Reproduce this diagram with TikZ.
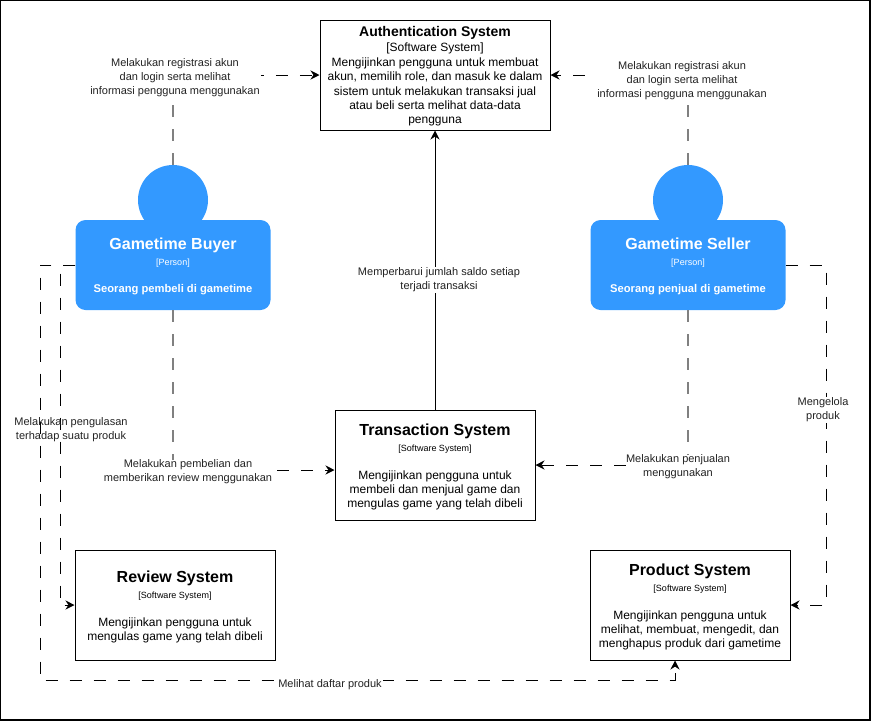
\documentclass[tikz,border=0pt]{standalone}
\usepackage{fontspec}
\setmainfont{Liberation Sans}
\usetikzlibrary{arrows.meta}
\definecolor{personblue}{HTML}{3399FF}
\definecolor{flowgray}{HTML}{808080}
\definecolor{notetext}{HTML}{222222}
\newcommand{\systitle}[1]{{\fontsize{16}{18}\selectfont\bfseries\rule{0pt}{15.5pt}#1}}
\newcommand{\systype}[1]{{\fontsize{9}{11}\selectfont #1}}
\tikzset{
  sysbox/.style={draw, line width=1pt, inner sep=0pt, align=center, font=\fontsize{12}{14.4}\selectfont},
  personbody/.style={fill=personblue, text=white, rounded corners=10pt, minimum width=195pt, minimum height=90pt, inner sep=0pt, align=center},
  personhead/.style={circle, fill=personblue, minimum size=70pt, inner sep=0pt},
  note/.style={text=notetext, inner xsep=1pt, inner ysep=0pt, align=center, font=\fontsize{11}{13.8}\selectfont},
  flow/.style={draw, line width=.9pt, dash pattern=on 12pt off 12pt, -{Stealth[length=9pt, width=9pt]}},
  flowstem/.style={draw=flowgray, line width=1.5pt, dash pattern=on 12pt off 12pt}
}
\begin{document}
\begin{tikzpicture}[x=1pt, y=-1pt]
  \useasboundingbox (0,0) rectangle (871,721);
  \draw [line width=1.2pt] (.5,.5) rectangle (870,720);
  % systems
  \node [sysbox, minimum width=230pt, minimum height=110pt] (auth) at (435,75)
    {{\fontsize{14}{16}\selectfont\bfseries\rule{0pt}{13pt}Authentication System}\\[1pt]
     [Software System]\\
     Mengijinkan pengguna untuk membuat\\
     akun, memilih role, dan masuk ke dalam\\
     sistem untuk melakukan transaksi jual\\
     atau beli serta melihat data-data\\
     pengguna};
  \node [sysbox, minimum width=200pt, minimum height=110pt] (trans) at (435,465)
    {\systitle{Transaction System}\\[2pt]
     \systype{[Software System]}\\[13pt]
     Mengijinkan pengguna untuk\\
     membeli dan menjual game dan\\
     mengulas game yang telah dibeli};
  \node [sysbox, minimum width=200pt, minimum height=110pt] (review) at (175,605)
    {\systitle{Review System}\\[2pt]
     \systype{[Software System]}\\[13pt]
     Mengijinkan pengguna untuk\\
     mengulas game yang telah dibeli};
  \node [sysbox, minimum width=200pt, minimum height=110pt] (product) at (690,605)
    {\systitle{Product System}\\[2pt]
     \systype{[Software System]}\\[13pt]
     Mengijinkan pengguna untuk\\
     melihat, membuat, mengedit, dan\\
     menghapus produk dari gametime};
  % persons
  \node [personhead] (buyerhead) at (173,200) {};
  \node [personhead] (sellerhead) at (688,200) {};
  \node [personbody] (buyer) at (173,265)
    {\systitle{Gametime Buyer}\\[3.5pt]
     {\fontsize{9}{11}\selectfont [Person]}\\[15pt]
     {\fontsize{11.2}{14}\selectfont\bfseries\rule[-4pt]{0pt}{4pt}Seorang pembeli di gametime}};
  \node [personbody] (seller) at (688,265)
    {\systitle{Gametime Seller}\\[3.5pt]
     {\fontsize{9}{11}\selectfont [Person]}\\[15pt]
     {\fontsize{11.2}{14}\selectfont\bfseries\rule[-4pt]{0pt}{4pt}Seorang penjual di gametime}};
  % labels
  \node [note] (buyerlogin) at (175,77.5)
    {Melakukan registrasi akun\\ dan login serta melihat\\ informasi pengguna menggunakan};
  \node [note] (sellerlogin) at (682,80.5)
    {Melakukan registrasi akun\\ dan login serta melihat\\ informasi pengguna menggunakan};
  \node [note, inner xsep=5pt] (buyerbuy) at (188,472)
    {Melakukan pembelian dan\\ memberikan review menggunakan};
  \node [note, inner xsep=0pt] (sellersale) at (678,467)
    {Melakukan penjualan\\ menggunakan};
  % flows
  \draw [flowstem] (buyerhead.north) -- (buyerhead.north |- buyerlogin.south);
  \draw [flowstem] (sellerhead.north) -- (sellerhead.north |- sellerlogin.south);
  \draw [flowstem] (buyer.south) -- (buyer.south |- buyerbuy.north);
  \draw [flowstem] (seller.south) -- (seller.south |- sellersale.north);
  \draw [flow, dash phase=9pt] (buyerlogin.east |- auth.west) -- (auth.west);
  \draw [flow, dash phase=12.5pt] (sellerlogin.west |- auth.east) -- (auth.east);
  \draw [flow] (buyerbuy.east |- trans.west) ++(0,5) -- ([yshift=-5pt]trans.west);
  \draw [flow] (sellersale.west |- trans.east) -- (trans.east);
  \draw [-{Stealth[length=9pt, width=9pt]}, line width=.9pt] (trans.north) -- (auth.south);
  \draw [flow] (buyer.west) -| (60,605) -- (review.west);
  \draw [flow] (buyer.west) -| (40,680) -| ([xshift=-15pt]product.south);
  \draw [flow] (seller.east) -| (826,605) -- (product.east);
  % labels over the flows
  \node [note, fill=white, inner ysep=1pt] (balance) at (439,280)
    {Memperbarui jumlah saldo setiap\\ terjadi transaksi};
  \node [note] (buyerwrite) at (71,430)
    {Melakukan pengulasan\\ terhadap suatu produk};
  \node [note, fill=white, inner ysep=1pt] (productlist) at (330,685) {Melihat daftar produk};
  \node [note, fill=white, inner ysep=1pt] (sellermanage) at (823,410) {Mengelola\\ produk};
\end{tikzpicture}
\end{document}
